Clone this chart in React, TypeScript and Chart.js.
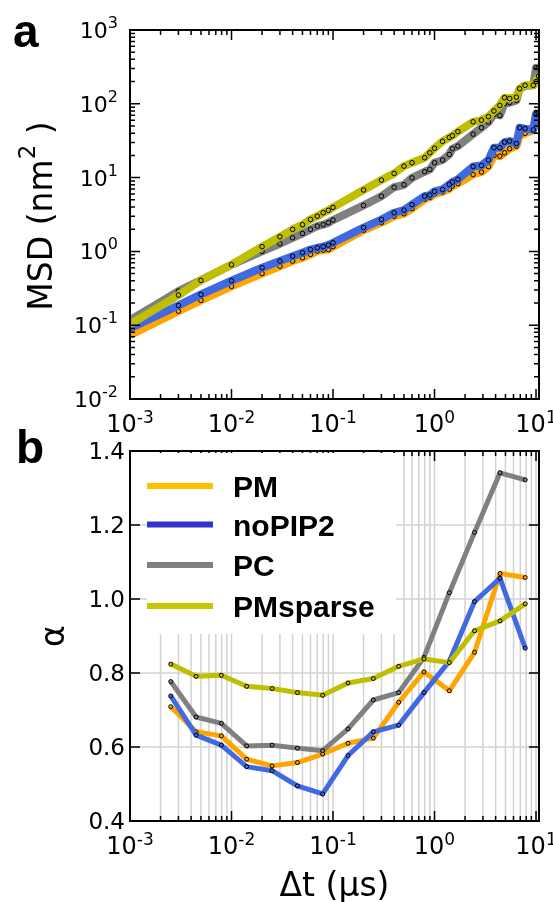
import React, { useEffect, useRef } from 'react';
import { Chart, registerables } from 'chart.js';
Chart.register(...registerables);

// ---------- data ----------
const seriesNames = ['PM', 'noPIP2', 'PC', 'PMsparse'];
const lineColors = ['#FFA500', '#4169E1', '#808080', '#BFBF00'];
const legendColors = ['#FFC000', '#3333CC', '#808080', '#C8C800'];

// panel a: MSD vs lag time (µs)
const msdLag = [0.001, 0.003, 0.005, 0.01, 0.02, 0.03, 0.04, 0.05, 0.06, 0.07, 0.08, 0.09, 0.1, 0.2, 0.3, 0.4, 0.5, 0.6, 0.8, 0.9, 1.0, 1.2, 1.4, 1.5, 1.7, 2.4, 2.9, 3.4, 3.85, 4.4, 4.9, 5.5, 6.4, 6.9, 7.8, 9.4, 10.0, 10.6];
const msdPM = [0.073, 0.155, 0.217, 0.336, 0.50, 0.63, 0.74, 0.82, 0.91, 1.01, 1.04, 1.06, 1.16, 1.93, 2.45, 3.0, 3.24, 3.8, 5.1, 5.4, 6.0, 6.4, 7.0, 7.7, 8.3, 11.0, 11.9, 14.1, 20, 19.5, 21.7, 24.6, 26.7, 36.5, 39.8, 43.6, 74, 68];
const msdNoPIP2 = [0.0905, 0.185, 0.261, 0.40, 0.60, 0.74, 0.86, 0.96, 1.06, 1.12, 1.16, 1.22, 1.31, 2.1, 2.7, 3.34, 3.63, 4.3, 5.6, 5.8, 6.5, 6.9, 8.1, 8.7, 9.5, 14.1, 14.6, 17.3, 25.4, 25.4, 30.2, 31.2, 29, 47.4, 46, 44.3, 71.8, 77];
const msdPC = [0.117, 0.29, 0.408, 0.66, 1.0, 1.27, 1.53, 1.75, 1.99, 2.2, 2.3, 2.45, 2.66, 4.2, 5.6, 7.4, 8.0, 9.9, 12, 12.9, 15.9, 17.3, 20.6, 24.6, 26.7, 38.8, 47.4, 56.5, 71.8, 69.6, 101, 103.5, 111, 160, 174, 178, 308, 308];
const msdPMsparse = [0.1026, 0.256, 0.405, 0.66, 1.16, 1.58, 1.99, 2.3, 2.71, 3.0, 3.34, 3.6, 3.95, 6.8, 9.25, 11.4, 14.3, 15.9, 18.6, 21.7, 25, 31, 35, 37, 42, 57, 60, 67, 80, 95, 121, 118, 123, 160, 178, 178, 200, 235];

// panel b: alpha vs lag time (µs)
const alphaLag = [0.00252, 0.00448, 0.00794, 0.0141, 0.0251, 0.0446, 0.0791, 0.1406, 0.2495, 0.4436, 0.787, 1.40, 2.48, 4.42, 7.83];
const alphaPM = [0.709, 0.641, 0.630, 0.567, 0.549, 0.558, 0.581, 0.610, 0.624, 0.721, 0.803, 0.752, 0.856, 1.069, 1.058];
const alphaNoPIP2 = [0.738, 0.632, 0.605, 0.547, 0.536, 0.495, 0.473, 0.577, 0.641, 0.659, 0.747, 0.832, 0.993, 1.056, 0.867];
const alphaPC = [0.777, 0.681, 0.664, 0.603, 0.605, 0.597, 0.590, 0.649, 0.727, 0.747, 0.842, 1.017, 1.180, 1.341, 1.322];
const alphaPMsparse = [0.824, 0.791, 0.794, 0.764, 0.758, 0.747, 0.740, 0.773, 0.785, 0.818, 0.838, 0.828, 0.914, 0.941, 0.987];

// ticks
const xMajorTicks = [1e-3, 1e-2, 1e-1, 1e0, 1e1];
const xTickExps = ['-3', '-2', '-1', '0', '1'];
const msdYTicks = [1e-2, 1e-1, 1e0, 1e1, 1e2, 1e3];
const msdYExps = ['-2', '-1', '0', '1', '2', '3'];
const alphaYTicks = [0.4, 0.6, 0.8, 1.0, 1.2, 1.4];
const alphaYLabels = ['0.4', '0.6', '0.8', '1.0', '1.2', '1.4'];

const X_MIN = 1e-3, X_MAX = 10.7;
const FONT = '"DejaVu Sans", sans-serif';
const LFONT = '"Liberation Sans", Arial, sans-serif';

function logTicks(min: number, max: number) {
  const out: { v: number; major: boolean }[] = [];
  for (let e = Math.floor(Math.log10(min)); e <= Math.ceil(Math.log10(max)); e++) {
    for (let d = 1; d <= 9; d++) {
      const v = d * Math.pow(10, e);
      if (v >= min * 0.9999 && v <= max * 1.0001) out.push({ v, major: d === 1 });
    }
  }
  return out;
}

function drawPow(ctx: CanvasRenderingContext2D, x: number, baseline: number, exp: string, bs: number, es: number, rise: number, align: 'center' | 'right') {
  ctx.font = `${bs}px ${FONT}`;
  const wb = ctx.measureText('10').width;
  ctx.font = `${es}px ${FONT}`;
  const we = ctx.measureText(exp).width;
  const x0 = align === 'center' ? x - (wb + we) / 2 : x - (wb + we);
  ctx.textAlign = 'left';
  ctx.textBaseline = 'alphabetic';
  ctx.fillStyle = '#000';
  ctx.font = `${bs}px ${FONT}`;
  ctx.fillText('10', x0, baseline);
  ctx.font = `${es}px ${FONT}`;
  ctx.fillText(exp, x0 + wb, baseline - rise);
}

function drawXTicks(ctx: CanvasRenderingContext2D, chart: any) {
  const { left, right, top, bottom } = chart.chartArea;
  const xs = chart.scales.x;
  ctx.strokeStyle = '#000';
  ctx.lineWidth = 1.5;
  for (const t of logTicks(X_MIN, X_MAX)) {
    const px = xs.getPixelForValue(t.v);
    if (px < left - 0.5 || px > right + 0.5) continue;
    const len = t.major ? 10 : 5;
    ctx.beginPath();
    ctx.moveTo(px, bottom); ctx.lineTo(px, bottom - len);
    ctx.moveTo(px, top); ctx.lineTo(px, top + len);
    ctx.stroke();
  }
}

function drawFrame(ctx: CanvasRenderingContext2D, chart: any) {
  const { left, right, top, bottom } = chart.chartArea;
  ctx.strokeStyle = '#000';
  ctx.lineWidth = 2;
  ctx.strokeRect(left, top, right - left, bottom - top);
}

function drawXLabels(ctx: CanvasRenderingContext2D, chart: any) {
  const xs = chart.scales.x;
  const { bottom } = chart.chartArea;
  xMajorTicks.forEach((v, i) => {
    drawPow(ctx, xs.getPixelForValue(v), bottom + 33, xTickExps[i], 24, 17, 9, 'center');
  });
}

const panelAPlugin = {
  id: 'panelA',
  afterDatasetsDraw(chart: any) {
    const ctx = chart.ctx as CanvasRenderingContext2D;
    const { left, right } = chart.chartArea;
    const ys = chart.scales.y;
    ctx.save();
    drawXTicks(ctx, chart);
    ctx.lineWidth = 1.5;
    for (const t of logTicks(1e-2, 1e3)) {
      const py = ys.getPixelForValue(t.v);
      const len = t.major ? 10 : 5;
      ctx.beginPath();
      ctx.moveTo(left, py); ctx.lineTo(left + len, py);
      ctx.moveTo(right, py); ctx.lineTo(right - len, py);
      ctx.stroke();
    }
    drawFrame(ctx, chart);
    drawXLabels(ctx, chart);
    msdYTicks.forEach((v, i) => {
      drawPow(ctx, 118, ys.getPixelForValue(v) + 8, msdYExps[i], 22, 16, 10, 'right');
    });
    // y title
    ctx.save();
    ctx.translate(52, 216);
    ctx.rotate(-Math.PI / 2);
    ctx.fillStyle = '#000';
    ctx.textBaseline = 'alphabetic';
    ctx.textAlign = 'left';
    const p1 = 'MSD (nm', p2 = '2', p3 = ' )';
    ctx.font = `33px ${FONT}`;
    const w1 = ctx.measureText(p1).width, w3 = ctx.measureText(p3).width;
    ctx.font = `23px ${FONT}`;
    const w2 = ctx.measureText(p2).width;
    const x0 = -(w1 + w2 + w3) / 2;
    ctx.font = `33px ${FONT}`;
    ctx.fillText(p1, x0, 0);
    ctx.fillText(p3, x0 + w1 + w2, 0);
    ctx.font = `23px ${FONT}`;
    ctx.fillText(p2, x0 + w1, -17);
    ctx.restore();
    // panel letter
    ctx.fillStyle = '#000';
    ctx.font = `bold 46px ${LFONT}`;
    ctx.textAlign = 'left';
    ctx.textBaseline = 'alphabetic';
    ctx.fillText('a', 13, 47);
    ctx.restore();
  },
};

const LEGEND_BOX = { x0: 147, y0: 453, x1: 396, y1: 634 };
const LEGEND_ROWS = [486, 524.5, 565, 606];

const panelBPlugin = {
  id: 'panelB',
  beforeDatasetsDraw(chart: any) {
    const ctx = chart.ctx as CanvasRenderingContext2D;
    const { left, right, top, bottom } = chart.chartArea;
    const xs = chart.scales.x, ys = chart.scales.y;
    ctx.save();
    // grid
    ctx.strokeStyle = '#d2d2d2';
    ctx.lineWidth = 1.5;
    for (const t of logTicks(X_MIN, X_MAX)) {
      const px = xs.getPixelForValue(t.v);
      if (px <= left + 1 || px >= right - 1) continue;
      ctx.beginPath(); ctx.moveTo(px, top); ctx.lineTo(px, bottom); ctx.stroke();
    }
    alphaYTicks.forEach((v) => {
      const py = ys.getPixelForValue(v);
      if (py <= top + 1 || py >= bottom - 1) return;
      ctx.beginPath(); ctx.moveTo(left, py); ctx.lineTo(right, py); ctx.stroke();
    });
    // ticks
    drawXTicks(ctx, chart);
    ctx.lineWidth = 1.5;
    alphaYTicks.forEach((v) => {
      const py = ys.getPixelForValue(v);
      ctx.beginPath();
      ctx.moveTo(left, py); ctx.lineTo(left + 10, py);
      ctx.moveTo(right, py); ctx.lineTo(right - 10, py);
      ctx.stroke();
    });
    // legend
    ctx.fillStyle = '#fff';
    ctx.fillRect(LEGEND_BOX.x0, LEGEND_BOX.y0, LEGEND_BOX.x1 - LEGEND_BOX.x0, LEGEND_BOX.y1 - LEGEND_BOX.y0);
    chart.data.datasets.forEach((ds: any, i: number) => {
      const y = LEGEND_ROWS[i];
      ctx.strokeStyle = legendColors[i];
      ctx.lineWidth = 6;
      ctx.beginPath(); ctx.moveTo(147, y); ctx.lineTo(213, y); ctx.stroke();
      ctx.fillStyle = '#000';
      ctx.font = `bold 30px ${LFONT}`;
      ctx.textAlign = 'left';
      ctx.textBaseline = 'alphabetic';
      ctx.fillText(ds.label, 233, y + 11);
    });
    ctx.restore();
  },
  afterDatasetsDraw(chart: any) {
    const ctx = chart.ctx as CanvasRenderingContext2D;
    const ys = chart.scales.y;
    const { left, right, bottom } = chart.chartArea;
    ctx.save();
    drawFrame(ctx, chart);
    drawXLabels(ctx, chart);
    ctx.fillStyle = '#000';
    ctx.font = `23px ${FONT}`;
    ctx.textAlign = 'right';
    ctx.textBaseline = 'alphabetic';
    alphaYTicks.forEach((v, i) => {
      ctx.fillText(alphaYLabels[i], 125, ys.getPixelForValue(v) + 8);
    });
    // y title
    ctx.save();
    ctx.translate(64, 636);
    ctx.rotate(-Math.PI / 2);
    ctx.font = `33px ${FONT}`;
    ctx.textAlign = 'center';
    ctx.fillText('α', 0, 0);
    ctx.restore();
    // x title
    ctx.font = `33px ${FONT}`;
    ctx.textAlign = 'center';
    ctx.fillText('Δt (µs)', (left + right) / 2, bottom + 75);
    // panel letter
    ctx.font = `bold 46px ${LFONT}`;
    ctx.textAlign = 'left';
    ctx.fillText('b', 16, 463);
    ctx.restore();
  },
};

function makeDatasets(xs: number[], ys: number[][], width: number, radius: number, skipFirst: boolean) {
  return ys.map((arr, i) => ({
    label: seriesNames[i],
    data: xs.map((x, j) => ({ x, y: arr[j] })),
    borderColor: lineColors[i],
    backgroundColor: lineColors[i],
    borderWidth: width,
    borderJoinStyle: 'round' as const,
    pointRadius: (c: any) => (skipFirst && c.dataIndex === 0 ? 0 : radius),
    pointBorderColor: '#000',
    pointBorderWidth: 1,
    pointBackgroundColor: lineColors[i],
    tension: 0,
    clip: 0,
    order: 4 - i,
  }));
}

export default function App() {
  const refA = useRef<HTMLCanvasElement>(null);
  const refB = useRef<HTMLCanvasElement>(null);
  useEffect(() => {
    const common = {
      responsive: false,
      animation: false as const,
      events: [] as any[],
      plugins: { legend: { display: false }, tooltip: { enabled: false } },
    };
    const a = new Chart(refA.current!, {
      type: 'line',
      data: { datasets: makeDatasets(msdLag, [msdPM, msdNoPIP2, msdPC, msdPMsparse], 8, 2.3, true) as any },
      options: {
        ...common,
        layout: { padding: { left: 130, top: 30, right: 14, bottom: 503 } },
        scales: {
          x: { type: 'logarithmic', min: X_MIN, max: X_MAX, display: false },
          y: { type: 'logarithmic', min: 1e-2, max: 1e3, display: false },
        },
      } as any,
      plugins: [panelAPlugin],
    });
    const b = new Chart(refB.current!, {
      type: 'line',
      data: { datasets: makeDatasets(alphaLag, [alphaPM, alphaNoPIP2, alphaPC, alphaPMsparse], 5, 2, false) as any },
      options: {
        ...common,
        layout: { padding: { left: 130, top: 451, right: 14, bottom: 81 } },
        scales: {
          x: { type: 'logarithmic', min: X_MIN, max: X_MAX, display: false },
          y: { type: 'linear', min: 0.4, max: 1.4, display: false },
        },
      } as any,
      plugins: [panelBPlugin],
    });
    return () => {
      a.destroy();
      b.destroy();
    };
  }, []);
  return (
    <div style={{ position: 'absolute', left: 0, top: 0, width: 553, height: 902, background: '#fff' }}>
      <canvas ref={refA} width={553} height={902} style={{ position: 'absolute', left: 0, top: 0 }} />
      <canvas ref={refB} width={553} height={902} style={{ position: 'absolute', left: 0, top: 0 }} />
    </div>
  );
}
